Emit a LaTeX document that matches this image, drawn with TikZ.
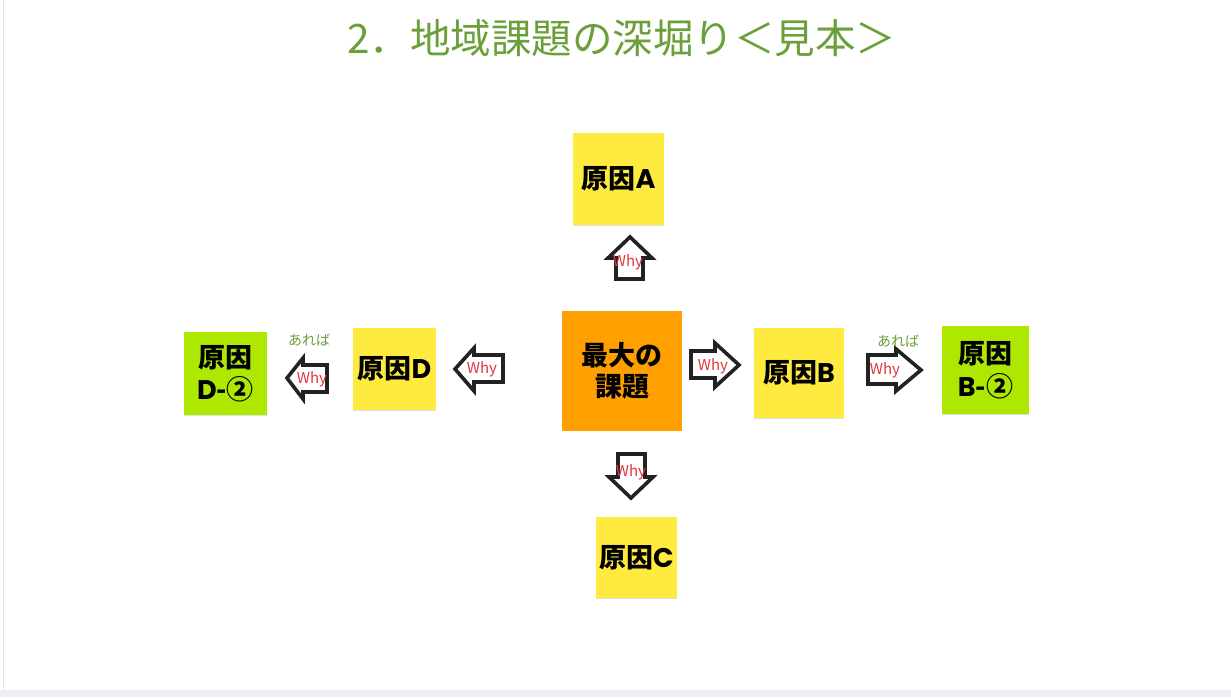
\documentclass[tikz,border=0pt]{standalone}
\usepackage{fontspec}
\setmainfont{Noto Sans CJK JP}
\newfontfamily\latinb{Poppins}
\newcommand\lt[1]{{\latinb\bfseries #1}}
\definecolor{titlegreen}{HTML}{6A9F3A}
\definecolor{noteyellow}{HTML}{FFEB3F}
\definecolor{noteorange}{HTML}{FF9F00}
\definecolor{notelime}{HTML}{AEE800}
\definecolor{arrowdark}{HTML}{222222}
\definecolor{whyred}{HTML}{E0383A}
\definecolor{stripgray}{HTML}{EDEEF1}
\tikzset{
  note/.style={inner sep=0pt, align=center, font=\bfseries\fontsize{27}{31}\selectfont, text=black},
  noteshadow/.style={draw=black!12, line width=1pt},
  blockarr/.style={draw=arrowdark, fill=white, line width=3.6pt, line join=miter, miter limit=10},
  whylabel/.style={inner sep=0pt, text=whyred, font=\fontsize{15}{15}\selectfont},
  ifthen/.style={inner sep=0pt, text=titlegreen, font=\fontsize{14}{14}\selectfont},
}
\begin{document}
\begin{tikzpicture}[x=1pt,y=-1pt]
\useasboundingbox (0,0) rectangle (1231,697);
\fill[white] (0,0) rectangle (1231,697);
\fill[stripgray] (0,690) rectangle (1231,697);
\draw[stripgray!80!black!40, line width=1pt] (3.5,0) -- (3.5,690);

% title
\node[inner sep=0pt, text=titlegreen, font=\fontsize{40.5}{40}\selectfont] (title) at (622,38) {2．地域課題の深堀り＜見本＞};

% notes
\node[note, fill=noteorange, minimum width=120pt, minimum height=120pt] (main) at (622,371) {最大の\\課題};
\node[note, fill=noteyellow, minimum width=91pt, minimum height=92pt] (A) at (618.5,179) {原因\lt{A}};
\node[note, fill=noteyellow, minimum width=90pt, minimum height=90pt] (B) at (799,373) {原因\lt{B}};
\node[note, fill=noteyellow, minimum width=81pt, minimum height=81pt] (C) at (636.5,557.5) {原因\lt{C}};
\node[note, fill=noteyellow, minimum width=83pt, minimum height=82pt] (D) at (394.5,369) {原因\lt{D}};
\node[note, fill=notelime, minimum width=87pt, minimum height=88pt, font=\bfseries\fontsize{27}{33}\selectfont] (B2) at (985.5,370) {原因\\\lt{B}-②};
\node[note, fill=notelime, minimum width=83pt, minimum height=83pt, font=\bfseries\fontsize{27}{32}\selectfont] (D2) at (225.5,373.5) {原因\\\lt{D}-②};

\foreach \n in {A,B,C,D,B2,D2}{
  \draw[noteshadow] (\n.south west) -- (\n.south east);
}

% block arrows
% up (main -> A)
\draw[blockarr] (630,237) -- (652,258) -- (643,258) -- (643,279) -- (616,279) -- (616,258) -- (608,258) -- cycle;
\node[whylabel] (whyA) at (628,262) {Why};
% right (main -> B)
\draw[blockarr] (739,365) -- (715,343) -- (715,351) -- (691,351) -- (691,378) -- (715,378) -- (715,387) -- cycle;
\node[whylabel] (whyB) at (713,366) {Why};
% down (main -> C)
\draw[blockarr] (631,498) -- (653,477) -- (645,477) -- (645,454) -- (618,454) -- (618,477) -- (609,477) -- cycle;
\node[whylabel] (whyC) at (631,472) {Why};
% left (main -> D)
\draw[blockarr] (455,369) -- (474,348) -- (474,355) -- (503,355) -- (503,382) -- (474,382) -- (474,391) -- cycle;
\node[whylabel] (whyD) at (482,369) {Why};
% right (B -> B2)
\draw[blockarr] (921,370) -- (896,349) -- (896,355) -- (868,355) -- (868,384) -- (896,384) -- (896,391) -- cycle;
\node[whylabel] (whyB2) at (885,370) {Why};
\node[ifthen] (arebaB) at (898,341) {あれば};
% left (D -> D2)
\draw[blockarr] (287,378) -- (303,358) -- (303,365) -- (327,365) -- (327,392) -- (303,392) -- (303,399) -- cycle;
\node[whylabel] (whyD2) at (312,379) {Why};
\node[ifthen] (arebaD) at (309,340) {あれば};
\end{tikzpicture}
\end{document}
